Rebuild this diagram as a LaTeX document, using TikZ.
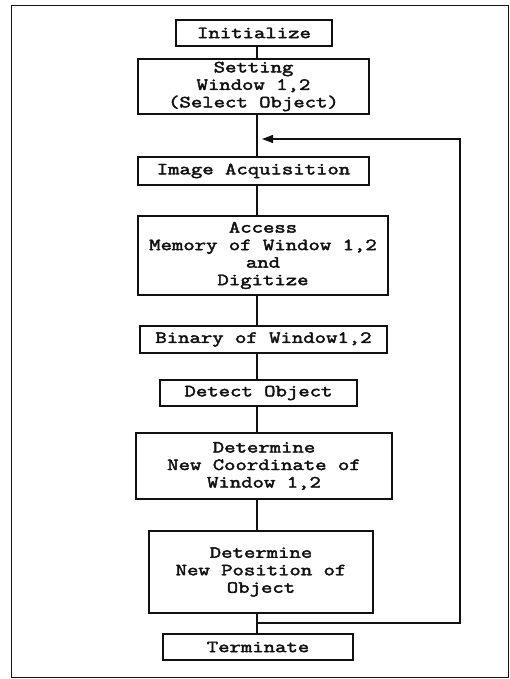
\documentclass[tikz,border=0pt]{standalone}
\usepackage{fontspec}
\usetikzlibrary{arrows.meta, positioning, calc}
\newfontfamily\boxfont{Latin Modern Mono}[FakeBold=2.6, FakeStretch=1.3]
\definecolor{ink}{HTML}{111111}
\tikzset{
  font=\boxfont\fontsize{17pt}{17.5pt}\selectfont,
  %
  stepbox/.style={
    draw=ink, line width=1.3pt, fill=white, align=center, text=ink,
    inner sep=0pt,
  },
  %
  flowline/.style={draw=ink, line width=1.3pt},
  flowback/.style={flowline, -{Triangle[length=11pt, width=8pt]}},
  frame/.style={draw=ink, line width=0.8pt},
}
\begin{document}
\begin{tikzpicture}[x=1pt, y=-1pt]

  \useasboundingbox (0,0) rectangle (510,679);
  \draw[frame] (11,5) rectangle (508,677);

  \coordinate (spine) at (257,0);

  % --- the steps, top to bottom -------------------------------------------
  \node[stepbox, minimum width=156pt, minimum height=26pt] (init) at (254,33)
    {Initialize};
  \node[stepbox, minimum width=231pt, minimum height=55pt] (sel) at (253.5,86.5)
    {Setting\\Window 1,2\\(Select Object)};
  \node[stepbox, minimum width=231pt, minimum height=28pt] (acq) at (253.5,171)
    {Image Acquisition};
  \node[stepbox, minimum width=250pt, minimum height=79pt] (acc) at (263,255.5)
    {Access\\Memory of Window 1,2\\and\\Digitize};
  \node[stepbox, minimum width=247pt, minimum height=27pt] (bin) at (263.5,339.5)
    {Binary of Window1,2};
  \node[stepbox, minimum width=197pt, minimum height=26pt] (det) at (258.5,393)
    {Detect Object};
  \node[stepbox, minimum width=256pt, minimum height=66pt] (crd) at (264,466)
    {Determine\\New Coordinate of\\Window 1,2};
  \node[stepbox, minimum width=224pt, minimum height=82pt] (pos) at (261,572)
    {Determine\\New Position of\\Object};
  \node[stepbox, minimum width=190pt, minimum height=26pt] (term) at (258,647)
    {Terminate};

  % --- the spine ------------------------------------------------------------
  \foreach \a/\b in {init/sel, sel/acq, acq/acc, acc/bin, bin/det, det/crd,
                     crd/pos, pos/term}
    \draw[flowline] (\a.south -| spine) -- (\b.north -| spine);

  % --- the loop back to acquisition -----------------------------------------
  \coordinate (rfrom) at (257,623);
  \coordinate (rcorner) at (460,623);
  \coordinate (rto) at (262,139);
  \draw[flowback] (rfrom) -- (rcorner) |- (rto);

\end{tikzpicture}
\end{document}
